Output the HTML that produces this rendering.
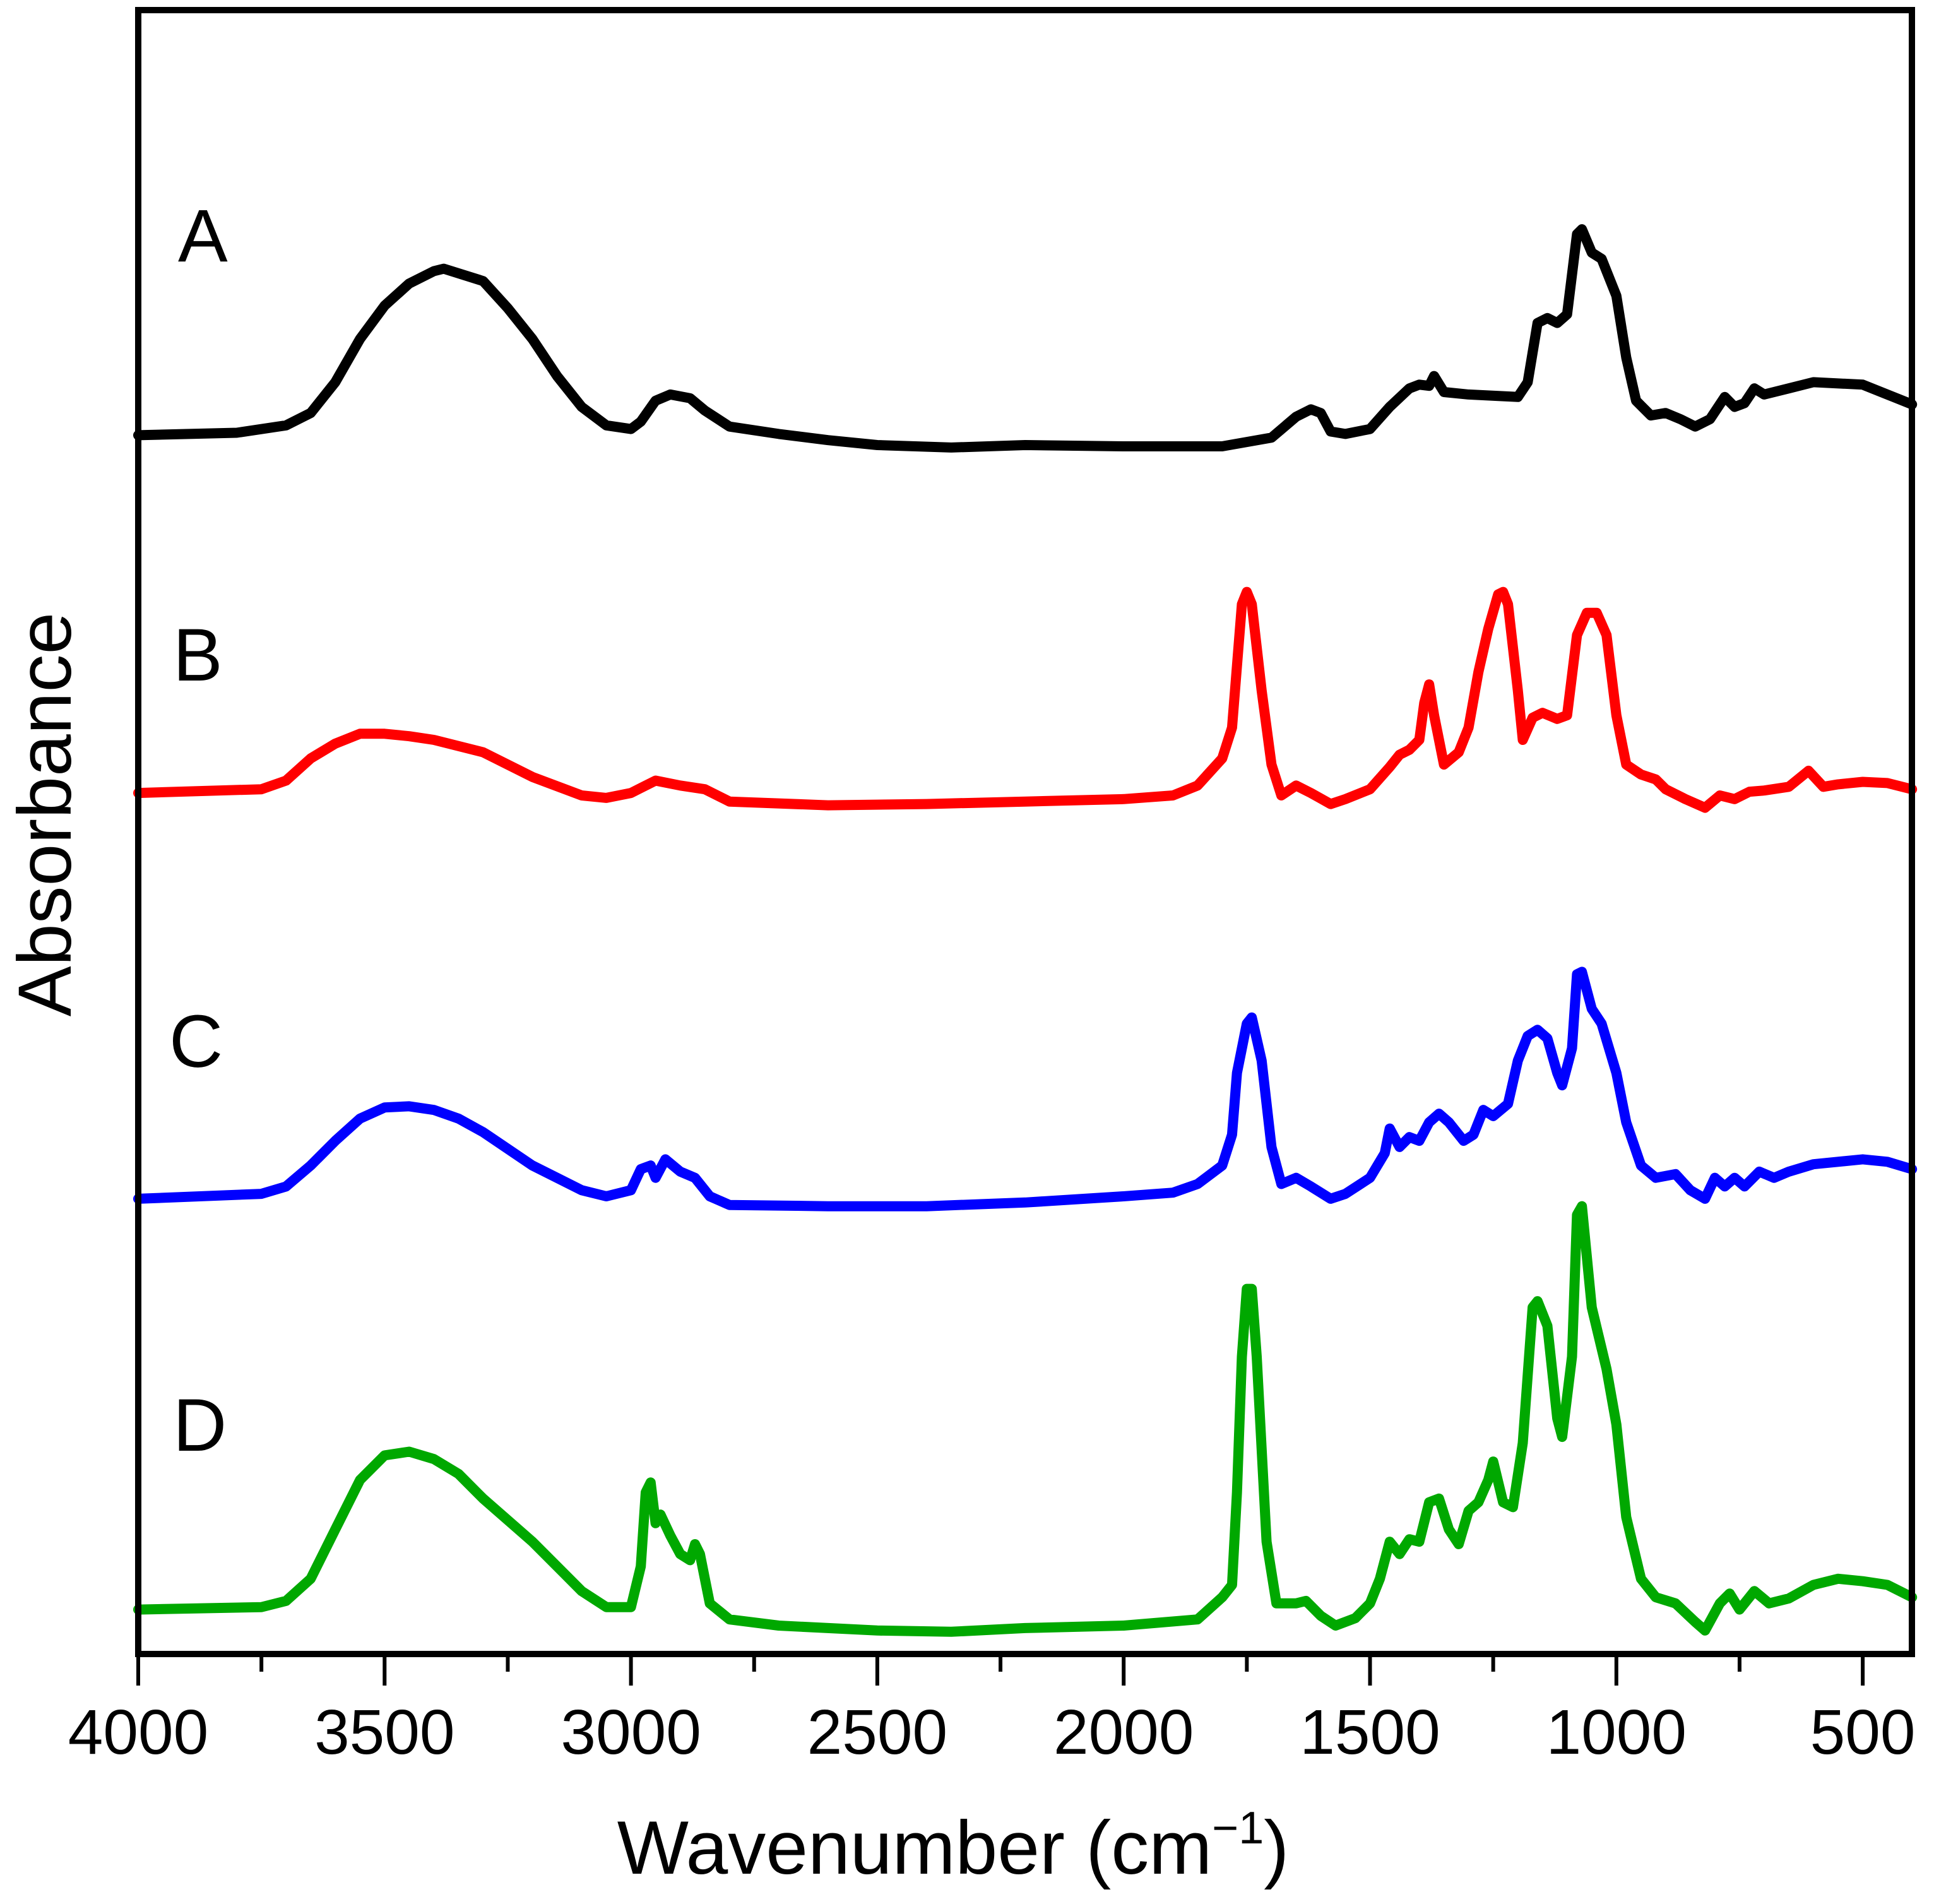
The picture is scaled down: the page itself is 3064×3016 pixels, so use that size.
<!DOCTYPE html>
<html><head><meta charset="utf-8"><style>
html,body{margin:0;padding:0;background:#fff;}
svg{display:block;}
text{font-family:"Liberation Sans",sans-serif;}
</style></head><body>
<svg id="chart" width="3064" height="3016" viewBox="0 0 3064 3016" xmlns="http://www.w3.org/2000/svg">
<g id="series"></g>
<rect x="219" y="16" width="2810" height="2604" fill="none" stroke="#000" stroke-width="10"/>
<g id="ticks"></g>
<text x="282" y="414" font-size="118">A</text>
<text x="274" y="1078" font-size="118">B</text>
<text x="268" y="1690" font-size="118">C</text>
<text x="274" y="2298" font-size="118">D</text>
<text transform="translate(112,1290) rotate(-90)" text-anchor="middle" font-size="120">Absorbance</text>
<text x="1510" y="2968" text-anchor="middle" font-size="120">Wavenumber (cm<tspan font-size="72" dy="-48">−1</tspan><tspan dy="48">)</tspan></text>
</svg>
<script>
const xTicksMajor=[4000,3500,3000,2500,2000,1500,1000,500];
const xTicksMinor=[3750,3250,2750,2250,1750,1250,750];
const wnA=[4000,3800,3700,3650,3600,3550,3500,3450,3400,3380,3300,3250,3200,3150,3100,3050,3000,2980,2950,2920,2880,2850,2800,2700,2600,2500,2350,2200,2000,1800,1700,1650,1620,1600,1580,1550,1500,1460,1420,1400,1380,1370,1350,1300,1200,1180,1160,1140,1120,1100,1080,1070,1050,1030,1000,980,960,930,900,870,840,810,780,760,740,720,700,650,600,500,450,400];
const absA=[987,989,995,1005,1030,1065,1092,1110,1120,1122,1112,1090,1065,1035,1010,995,992,998,1015,1020,1017,1007,994,988,983,979,977,979,978,978,985,1002,1008,1005,990,988,992,1010,1025,1028,1027,1035,1022,1020,1018,1030,1078,1082,1078,1085,1150,1154,1135,1130,1100,1050,1015,1003,1005,1000,994,1000,1018,1010,1013,1025,1020,1025,1030,1028,1020,1012];
const wnB=[4000,3750,3700,3650,3600,3550,3500,3450,3400,3300,3200,3100,3050,3000,2950,2900,2850,2800,2600,2400,2200,2000,1900,1850,1800,1780,1770,1760,1750,1740,1720,1700,1680,1650,1620,1580,1550,1500,1460,1440,1420,1400,1390,1380,1370,1350,1320,1300,1280,1260,1240,1230,1220,1200,1190,1170,1150,1120,1100,1080,1060,1040,1020,1000,980,950,920,900,860,820,790,760,730,700,650,610,580,550,500,450,400];
const absB=[697,700,707,725,737,745,745,743,740,730,710,695,693,697,707,703,700,690,687,688,690,692,695,703,725,750,800,850,860,850,780,720,695,703,697,688,692,700,718,728,732,740,770,785,760,720,730,750,795,830,858,860,850,780,740,758,762,757,760,825,843,843,825,760,720,712,708,700,692,685,695,692,698,699,702,715,702,704,706,705,700];
const wnC=[4000,3750,3700,3650,3600,3550,3500,3450,3400,3350,3300,3200,3100,3050,3000,2980,2960,2950,2930,2900,2870,2840,2800,2600,2400,2200,2000,1900,1850,1800,1780,1770,1750,1740,1720,1700,1680,1650,1620,1580,1550,1500,1470,1460,1440,1420,1400,1380,1360,1340,1310,1290,1270,1250,1220,1200,1180,1160,1140,1120,1110,1090,1080,1070,1050,1030,1000,980,950,920,880,850,820,800,780,760,740,710,680,650,600,500,450,400];
const absC=[368,372,378,395,415,433,442,443,440,433,422,395,375,370,375,392,395,385,400,390,385,370,363,362,362,365,370,373,380,395,420,470,510,515,480,410,380,385,378,368,372,385,405,425,410,418,415,430,437,430,415,420,440,435,445,480,500,505,498,470,460,490,550,552,522,510,470,430,395,385,388,375,368,385,378,385,378,390,385,390,396,400,398,392];
const wnD=[4000,3750,3700,3650,3600,3550,3500,3450,3400,3350,3300,3200,3100,3050,3000,2980,2970,2960,2950,2940,2920,2900,2880,2870,2860,2840,2800,2700,2500,2350,2200,2000,1850,1800,1780,1770,1760,1750,1740,1730,1710,1690,1650,1630,1600,1570,1530,1500,1480,1460,1440,1420,1400,1380,1360,1340,1320,1300,1280,1260,1250,1230,1210,1190,1170,1160,1140,1120,1110,1090,1080,1070,1050,1020,1000,980,950,920,880,840,820,790,770,750,720,690,650,600,550,500,450,400];
const absD=[35,37,42,60,100,140,160,163,157,145,125,90,50,37,37,70,130,138,105,112,95,80,75,88,80,40,27,22,18,17,20,22,27,45,55,130,240,295,295,240,90,40,40,42,30,22,28,40,60,90,80,92,90,122,125,100,88,115,122,140,155,122,118,170,280,285,265,190,175,240,355,362,280,230,185,110,60,45,40,25,18,40,48,35,50,40,44,55,60,58,55,45];

const NS='http://www.w3.org/2000/svg';
function xScale(w){return 219+(4000-w)*0.7806;}
function yScale(a){return 2618-a*1.954;}
const g=document.getElementById('series');
function drawSeries(wn,ab,color,name){
  const n=Math.min(wn.length,ab.length);
  let d='';
  for(let i=0;i<n;i++){d+=(i?'L':'M')+xScale(wn[i]).toFixed(1)+' '+yScale(ab[i]).toFixed(1);}
  const p=document.createElementNS(NS,'path');
  p.setAttribute('d',d);
  p.setAttribute('fill','none');
  p.setAttribute('stroke',color);
  p.setAttribute('stroke-width','16');
  p.setAttribute('stroke-linejoin','round');
  p.setAttribute('stroke-linecap','round');
  
  
  g.appendChild(p);
}
drawSeries(wnA,absA,'#000000','spectrum-a');
drawSeries(wnB,absB,'#ff0000','spectrum-b');
drawSeries(wnC,absC,'#0000ff','spectrum-c');
drawSeries(wnD,absD,'#00a800','spectrum-d');
const t=document.getElementById('ticks');
xTicksMajor.forEach(w=>{
  const l=document.createElementNS(NS,'line');
  const x=xScale(w);
  l.setAttribute('x1',x);l.setAttribute('x2',x);l.setAttribute('y1',2620);l.setAttribute('y2',2670);
  l.setAttribute('stroke','#000');l.setAttribute('stroke-width','6');
  
  
  t.appendChild(l);
  const tx=document.createElementNS(NS,'text');
  tx.setAttribute('x',x);tx.setAttribute('y',2778);tx.setAttribute('text-anchor','middle');tx.setAttribute('font-size','100');
  tx.textContent=String(w);
  
  
  t.appendChild(tx);
});
xTicksMinor.forEach(w=>{
  const l=document.createElementNS(NS,'line');
  const x=xScale(w);
  l.setAttribute('x1',x);l.setAttribute('x2',x);l.setAttribute('y1',2620);l.setAttribute('y2',2648);
  l.setAttribute('stroke','#000');l.setAttribute('stroke-width','6');
  
  
  t.appendChild(l);
});
</script>
</body></html>
